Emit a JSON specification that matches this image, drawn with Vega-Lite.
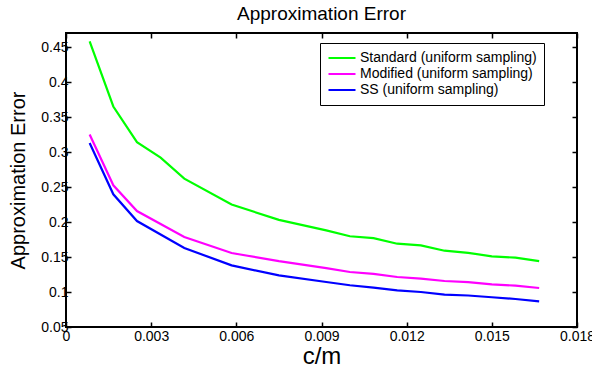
{
  "$schema": "https://vega.github.io/schema/vega-lite/v6.json",
  "width": 511,
  "height": 294,
  "autosize": {"type": "none"},
  "padding": {"left": 66, "top": 33, "right": 15, "bottom": 44},
  "background": "white",
  "title": {"text": "Approximation Error", "font": "Liberation Sans", "fontSize": 19, "fontWeight": "normal", "color": "black", "offset": 8},
  "config": {
    "view": {"stroke": "black", "strokeWidth": 2},
    "axis": {"grid": false, "domain": false, "tickColor": "black", "tickSize": -5, "tickWidth": 1.5}
  },
  "data": {"values": [
    {"x": 0.000833, "y": 0.458, "s": "Standard (uniform sampling)"},
    {"x": 0.001667, "y": 0.365, "s": "Standard (uniform sampling)"},
    {"x": 0.0025, "y": 0.314, "s": "Standard (uniform sampling)"},
    {"x": 0.003333, "y": 0.292, "s": "Standard (uniform sampling)"},
    {"x": 0.004167, "y": 0.262, "s": "Standard (uniform sampling)"},
    {"x": 0.005833, "y": 0.225, "s": "Standard (uniform sampling)"},
    {"x": 0.0075, "y": 0.203, "s": "Standard (uniform sampling)"},
    {"x": 0.009167, "y": 0.188, "s": "Standard (uniform sampling)"},
    {"x": 0.01, "y": 0.1796, "s": "Standard (uniform sampling)"},
    {"x": 0.010833, "y": 0.177, "s": "Standard (uniform sampling)"},
    {"x": 0.011667, "y": 0.169, "s": "Standard (uniform sampling)"},
    {"x": 0.0125, "y": 0.1667, "s": "Standard (uniform sampling)"},
    {"x": 0.013333, "y": 0.159, "s": "Standard (uniform sampling)"},
    {"x": 0.014167, "y": 0.156, "s": "Standard (uniform sampling)"},
    {"x": 0.015, "y": 0.151, "s": "Standard (uniform sampling)"},
    {"x": 0.015833, "y": 0.149, "s": "Standard (uniform sampling)"},
    {"x": 0.016667, "y": 0.144, "s": "Standard (uniform sampling)"},
    {"x": 0.000833, "y": 0.3249, "s": "Modified (uniform sampling)"},
    {"x": 0.001667, "y": 0.2524, "s": "Modified (uniform sampling)"},
    {"x": 0.0025, "y": 0.2157, "s": "Modified (uniform sampling)"},
    {"x": 0.004167, "y": 0.1786, "s": "Modified (uniform sampling)"},
    {"x": 0.005833, "y": 0.1557, "s": "Modified (uniform sampling)"},
    {"x": 0.0075, "y": 0.144, "s": "Modified (uniform sampling)"},
    {"x": 0.009167, "y": 0.134, "s": "Modified (uniform sampling)"},
    {"x": 0.01, "y": 0.1286, "s": "Modified (uniform sampling)"},
    {"x": 0.010833, "y": 0.126, "s": "Modified (uniform sampling)"},
    {"x": 0.011667, "y": 0.1214, "s": "Modified (uniform sampling)"},
    {"x": 0.0125, "y": 0.119, "s": "Modified (uniform sampling)"},
    {"x": 0.013333, "y": 0.1157, "s": "Modified (uniform sampling)"},
    {"x": 0.014167, "y": 0.114, "s": "Modified (uniform sampling)"},
    {"x": 0.015, "y": 0.111, "s": "Modified (uniform sampling)"},
    {"x": 0.015833, "y": 0.109, "s": "Modified (uniform sampling)"},
    {"x": 0.016667, "y": 0.1057, "s": "Modified (uniform sampling)"},
    {"x": 0.000833, "y": 0.3129, "s": "SS (uniform sampling)"},
    {"x": 0.001667, "y": 0.2396, "s": "SS (uniform sampling)"},
    {"x": 0.0025, "y": 0.2014, "s": "SS (uniform sampling)"},
    {"x": 0.004167, "y": 0.1629, "s": "SS (uniform sampling)"},
    {"x": 0.005833, "y": 0.138, "s": "SS (uniform sampling)"},
    {"x": 0.0075, "y": 0.1238, "s": "SS (uniform sampling)"},
    {"x": 0.009167, "y": 0.1143, "s": "SS (uniform sampling)"},
    {"x": 0.01, "y": 0.1096, "s": "SS (uniform sampling)"},
    {"x": 0.010833, "y": 0.1063, "s": "SS (uniform sampling)"},
    {"x": 0.011667, "y": 0.1024, "s": "SS (uniform sampling)"},
    {"x": 0.0125, "y": 0.1, "s": "SS (uniform sampling)"},
    {"x": 0.013333, "y": 0.0963, "s": "SS (uniform sampling)"},
    {"x": 0.014167, "y": 0.095, "s": "SS (uniform sampling)"},
    {"x": 0.015, "y": 0.0925, "s": "SS (uniform sampling)"},
    {"x": 0.015833, "y": 0.09, "s": "SS (uniform sampling)"},
    {"x": 0.016667, "y": 0.0867, "s": "SS (uniform sampling)"}
  ]},
  "layer": [
    {
      "mark": {"type": "line", "strokeWidth": 2.2, "clip": true},
      "encoding": {
        "x": {"field": "x", "type": "quantitative", "scale": {"domain": [0, 0.018], "nice": false, "zero": false},
              "axis": {"orient": "bottom", "values": [0, 0.003, 0.006, 0.009, 0.012, 0.015, 0.018], "format": ".3~f", "labelFont": "Liberation Sans", "labelFontSize": 14, "labelColor": "black", "labelPadding": 7, "labelFlush": false, "labelOverlap": false, "title": "c/m", "titleFont": "Liberation Sans", "titleFontSize": 24, "titleFontWeight": "normal", "titleColor": "black", "titlePadding": 1}},
        "y": {"field": "y", "type": "quantitative", "scale": {"domain": [0.05, 0.47], "nice": false, "zero": false},
              "axis": {"orient": "left", "values": [0.05, 0.1, 0.15, 0.2, 0.25, 0.3, 0.35, 0.4, 0.45], "format": ".2~f", "labelFont": "Liberation Sans", "labelFontSize": 14, "labelColor": "black", "labelPadding": 3, "labelFlush": false, "labelOverlap": false, "title": "Approximation Error", "titleFont": "Liberation Sans", "titleFontSize": 20, "titleFontWeight": "normal", "titleColor": "black", "titlePadding": 12}},
        "color": {"field": "s", "type": "nominal",
                  "scale": {"domain": ["Standard (uniform sampling)", "Modified (uniform sampling)", "SS (uniform sampling)"], "range": ["#00ff00", "#ff00ff", "#0000ff"]},
                  "legend": {"title": null, "orient": "none", "legendX": 254, "legendY": 10, "fillColor": "white", "strokeColor": "black", "padding": 7, "symbolType": "stroke", "symbolStrokeWidth": 2.2, "symbolSize": 729, "labelFont": "Liberation Sans", "labelFontSize": 14, "labelColor": "black", "labelLimit": 400, "rowPadding": 0, "clipHeight": 16, "labelOffset": 3}}
      }
    },
    {
      "mark": {"type": "line", "strokeOpacity": 0},
      "encoding": {
        "x": {"field": "x", "type": "quantitative", "axis": {"orient": "top", "values": [0, 0.003, 0.006, 0.009, 0.012, 0.015, 0.018], "labels": false, "title": null}},
        "y": {"field": "y", "type": "quantitative", "axis": {"orient": "right", "values": [0.05, 0.1, 0.15, 0.2, 0.25, 0.3, 0.35, 0.4, 0.45], "labels": false, "title": null}},
        "detail": {"field": "s", "type": "nominal"}
      }
    }
  ],
  "resolve": {"axis": {"x": "independent", "y": "independent"}}
}
